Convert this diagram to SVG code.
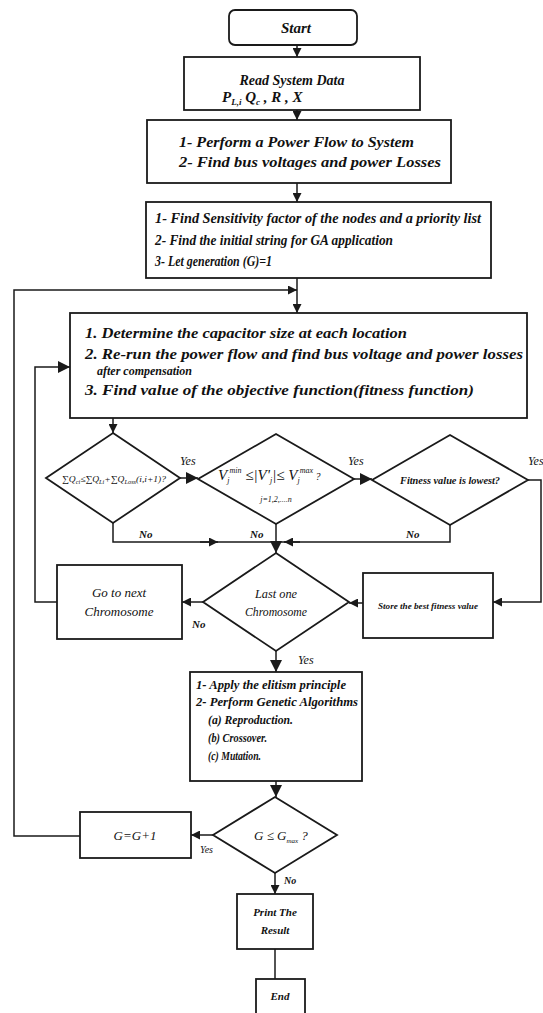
<svg xmlns="http://www.w3.org/2000/svg" width="543" height="1013" viewBox="0 0 543 1013">
<style>
.bx{fill:#fff;stroke:#1a1a1a;stroke-width:1.8}
.ln{fill:none;stroke:#1a1a1a;stroke-width:1.5}
.t{font-family:"Liberation Serif","Times New Roman",serif;font-style:italic;font-weight:bold;fill:#111}
.m{font-family:"Liberation Serif","Times New Roman",serif;font-style:italic;fill:#111}
.c{text-anchor:middle}
</style>
<defs>
<marker id="ah" viewBox="0 0 10 10" refX="10" refY="5" markerWidth="9" markerHeight="9" markerUnits="userSpaceOnUse" orient="auto">
<path d="M0,0 L10,5 L0,10 z" fill="#1a1a1a"/>
</marker>
<marker id="ahL" viewBox="0 0 10 10" refX="10" refY="5" markerWidth="14" markerHeight="12" markerUnits="userSpaceOnUse" orient="auto">
<path d="M0,0 L10,5 L0,10 z" fill="#1a1a1a"/>
</marker>
</defs>
<rect width="543" height="1013" fill="#fff"/>
<g id="connectors">
<path class="ln" d="M297,45 V57" marker-end="url(#ah)"/>
<path class="ln" d="M297,110 V120" marker-end="url(#ah)"/>
<path class="ln" d="M297,183 V202" marker-end="url(#ah)"/>
<path class="ln" d="M297,278 V313" marker-end="url(#ah)"/>
<path class="ln" d="M80,836 H14 V290 H297" marker-end="url(#ah)"/>
<path class="ln" d="M57,602 H35 V367 H70" marker-end="url(#ahL)"/>
<path class="ln" d="M113,418 V433" marker-end="url(#ah)"/>
<path class="ln" d="M180,478 H198" marker-end="url(#ahL)"/>
<path class="ln" d="M354,479 H372" marker-end="url(#ahL)"/>
<path class="ln" d="M113,523 V542 H276"/>
<path class="ln" d="M200,542 H218" marker-end="url(#ah)"/>
<path class="ln" d="M450,525 V542 H276"/>
<path class="ln" d="M300,542 H284" marker-end="url(#ah)"/>
<path class="ln" d="M276,524 V553" marker-end="url(#ahL)"/>
<path class="ln" d="M528,480 H541 V602 H493" marker-end="url(#ah)"/>
<path class="ln" d="M363,603 H349" marker-end="url(#ah)"/>
<path class="ln" d="M203,602 H182" marker-end="url(#ah)"/>
<path class="ln" d="M276,651 V672" marker-end="url(#ahL)"/>
<path class="ln" d="M276,781 V797" marker-end="url(#ahL)"/>
<path class="ln" d="M213,835 H191" marker-end="url(#ah)"/>
<path class="ln" d="M275,873 V894" marker-end="url(#ah)"/>
<path class="ln" d="M275,949 V979"/>
</g>
<g id="start">
<rect class="bx" x="229" y="10" width="128" height="35" rx="6"/>
<text class="t c" x="296" y="33" font-size="15">Start</text>
</g>
<g id="read">
<rect class="bx" x="184" y="57" width="236" height="53"/>
<text class="t c" x="292" y="85" font-size="14">Read System Data</text>
<text class="t" x="222" y="102" font-size="15">P<tspan font-size="9" dy="3">L,i</tspan><tspan dy="-3"> Q</tspan><tspan font-size="9" dy="3">c</tspan><tspan dy="-3"> , R , X</tspan></text>
</g>
<g id="powerflow">
<rect class="bx" x="147" y="120" width="304" height="63"/>
<text class="t" x="179" y="147" font-size="14" textLength="235" lengthAdjust="spacingAndGlyphs">1-  Perform a Power Flow to System</text>
<text class="t" x="179" y="167" font-size="14" textLength="262" lengthAdjust="spacingAndGlyphs">2-  Find bus voltages and power Losses</text>
</g>
<g id="sensitivity">
<rect class="bx" x="146" y="202" width="345" height="76"/>
<text class="t" x="155" y="223" font-size="14" textLength="326" lengthAdjust="spacingAndGlyphs">1- Find Sensitivity factor of the nodes and a priority list</text>
<text class="t" x="155" y="245" font-size="14" textLength="238" lengthAdjust="spacingAndGlyphs">2- Find the initial string for GA application</text>
<text class="t" x="155" y="266" font-size="14" textLength="117" lengthAdjust="spacingAndGlyphs">3- Let generation (G)=1</text>
</g>
<g id="evaluate">
<rect class="bx" x="70" y="313" width="457" height="105"/>
<text class="t" x="85" y="338" font-size="14" textLength="322" lengthAdjust="spacingAndGlyphs">1. Determine the capacitor size at each location</text>
<text class="t" x="85" y="359" font-size="14" textLength="438" lengthAdjust="spacingAndGlyphs">2. Re-run the power flow and find bus voltage and power losses</text>
<text class="t" x="97" y="375" font-size="12">after compensation</text>
<text class="t" x="85" y="395" font-size="14" textLength="389" lengthAdjust="spacingAndGlyphs">3. Find value of the objective function(fitness function)</text>
</g>
<g id="check-q">
<polygon class="bx" points="113,433 180,478 113,523 46,478"/>
<text class="m" x="62" y="482" font-size="9" textLength="104" lengthAdjust="spacingAndGlyphs">∑Q<tspan font-size="6" dy="2">ci</tspan><tspan dy="-2">≤∑Q</tspan><tspan font-size="6" dy="2">Li</tspan><tspan dy="-2">+∑Q</tspan><tspan font-size="6" dy="2">Loss</tspan><tspan dy="-2">(i,i+1)?</tspan></text>
</g>
<g id="check-v">
<polygon class="bx" points="276,434 354,479 276,524 198,479"/>
<text class="m" x="218" y="480" font-size="15">V<tspan font-size="8" dy="3">j</tspan><tspan font-size="8" dy="-10">min</tspan><tspan dy="7"> ≤|V'</tspan><tspan font-size="8" dy="3">j</tspan><tspan dy="-3">|≤ V</tspan><tspan font-size="8" dy="3">j</tspan><tspan font-size="8" dy="-10">max</tspan><tspan font-size="10" dy="7"> ?</tspan></text>
<text class="m c" x="276" y="502" font-size="8">j=1,2,....n</text>
</g>
<g id="check-fit">
<polygon class="bx" points="450,435 528,480 450,525 372,480"/>
<text class="t c" x="450" y="484" font-size="11" textLength="100" lengthAdjust="spacingAndGlyphs">Fitness value is lowest?</text>
</g>
<g id="last-one">
<polygon class="bx" points="276,553 349,602 276,651 203,602"/>
<text class="m c" x="276" y="598" font-size="13" textLength="42" lengthAdjust="spacingAndGlyphs">Last one</text>
<text class="m c" x="276" y="616" font-size="13" textLength="62" lengthAdjust="spacingAndGlyphs">Chromosome</text>
</g>
<g id="next-chrom">
<rect class="bx" x="57" y="565" width="125" height="74"/>
<text class="m c" x="119" y="597" font-size="13">Go to next</text>
<text class="m c" x="119" y="616" font-size="13">Chromosome</text>
</g>
<g id="store">
<rect class="bx" x="363" y="573" width="130" height="65"/>
<text class="t c" x="428" y="609" font-size="9" textLength="100" lengthAdjust="spacingAndGlyphs">Store the best fitness value</text>
</g>
<g id="ga">
<rect class="bx" x="190" y="672" width="172" height="109"/>
<text class="t" x="196" y="689" font-size="12" textLength="150" lengthAdjust="spacingAndGlyphs">1-  Apply the elitism principle</text>
<text class="t" x="196" y="706" font-size="12" textLength="162" lengthAdjust="spacingAndGlyphs">2-  Perform Genetic Algorithms</text>
<text class="t" x="208" y="724" font-size="12" textLength="85" lengthAdjust="spacingAndGlyphs">(a) Reproduction.</text>
<text class="t" x="208" y="742" font-size="12" textLength="59" lengthAdjust="spacingAndGlyphs">(b) Crossover.</text>
<text class="t" x="208" y="760" font-size="12" textLength="53" lengthAdjust="spacingAndGlyphs">(c) Mutation.</text>
</g>
<g id="check-g">
<polygon class="bx" points="275,797 337,835 275,873 213,835"/>
<text class="m" x="254" y="840" font-size="13">G ≤ G<tspan font-size="7" dy="3">max</tspan><tspan dy="-3"> ?</tspan></text>
</g>
<g id="increment">
<rect class="bx" x="80" y="812" width="111" height="46"/>
<text class="m c" x="135" y="840" font-size="13">G=G+1</text>
</g>
<g id="print">
<rect class="bx" x="237" y="894" width="76" height="55"/>
<text class="t c" x="275" y="916" font-size="11">Print The</text>
<text class="t c" x="275" y="934" font-size="11">Result</text>
</g>
<g id="end">
<rect class="bx" x="256" y="979" width="49" height="40"/>
<text class="t c" x="280" y="1000" font-size="11">End</text>
</g>
<g id="labels">
<text class="m" x="180" y="465" font-size="12">Yes</text>
<text class="m" x="348" y="465" font-size="12">Yes</text>
<text class="m" x="528" y="465" font-size="12">Yes</text>
<text class="t" x="139" y="538" font-size="11">No</text>
<text class="t" x="250" y="538" font-size="11">No</text>
<text class="t" x="406" y="538" font-size="11">No</text>
<text class="t" x="192" y="628" font-size="11">No</text>
<text class="m" x="298" y="664" font-size="12">Yes</text>
<text class="m" x="200" y="853" font-size="10">Yes</text>
<text class="t" x="284" y="884" font-size="10">No</text>
</g>
</svg>
